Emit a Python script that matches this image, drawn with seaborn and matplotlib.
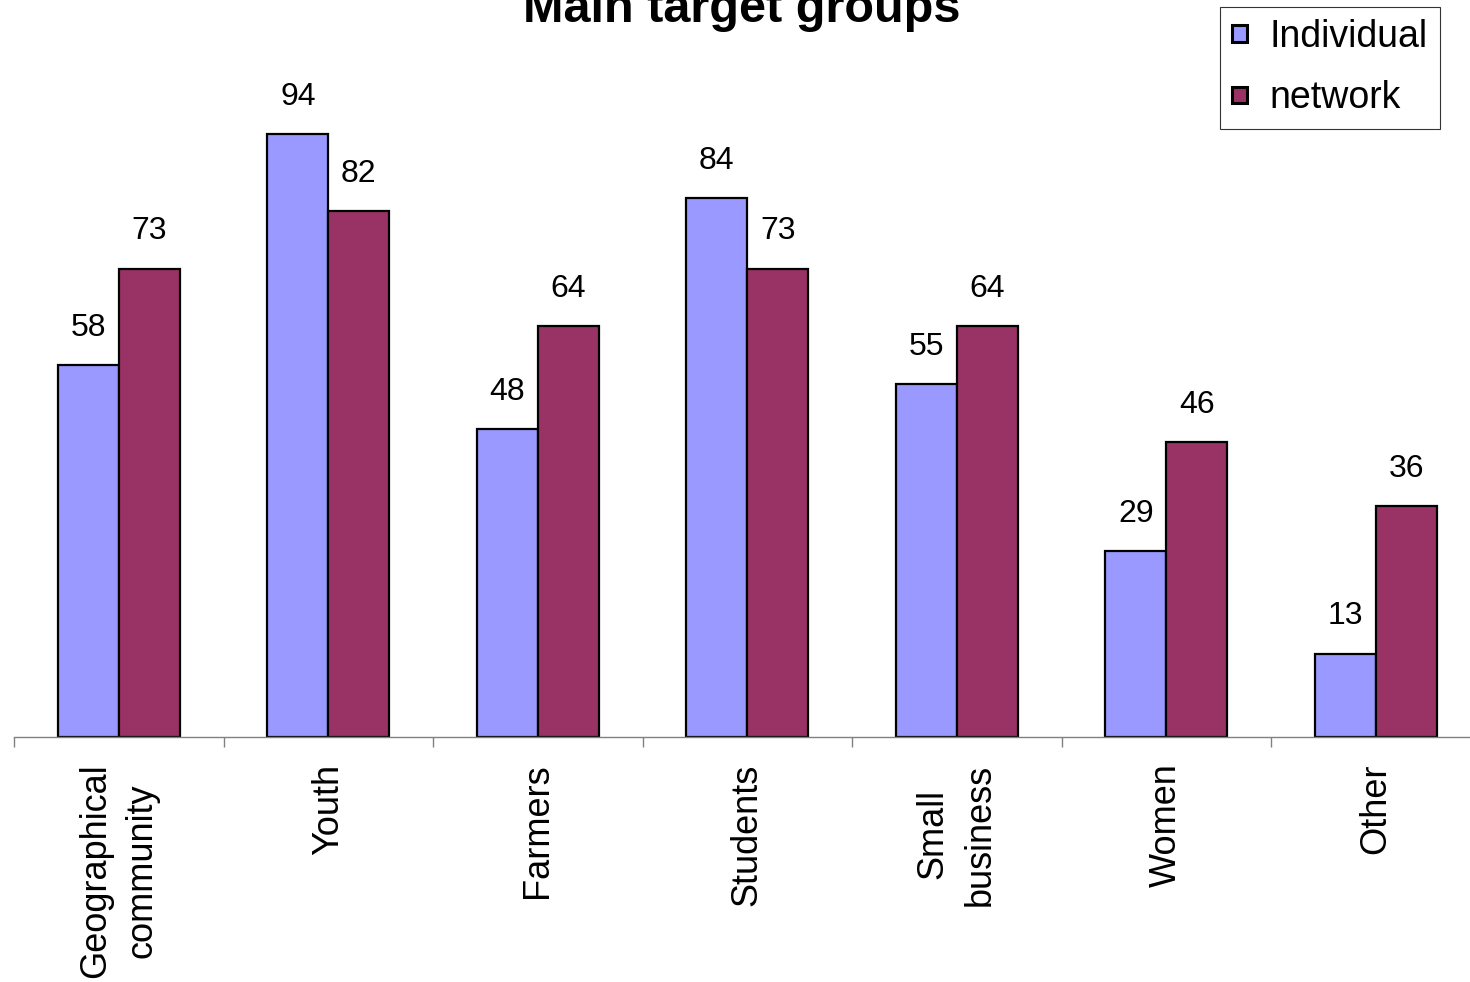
import matplotlib
matplotlib.use("Agg")
import matplotlib.pyplot as plt
import seaborn as sns
import pandas as pd
import numpy as np

categories = ["Geographical\ncommunity", "Youth", "Farmers", "Students",
              "Small\nbusiness", "Women", "Other"]
individual = [58, 94, 48, 84, 55, 29, 13]
network = [73, 82, 64, 73, 64, 46, 36]
series_names = ["Individual", "network"]
colors = {"Individual": "#9999FF", "network": "#993366"}
title = "Main target groups"

df = pd.DataFrame({
    "category": categories * 2,
    "value": individual + network,
    "series": [series_names[0]] * len(categories) + [series_names[1]] * len(categories),
})

sns.set_style("white")
plt.rcParams["font.family"] = ["Liberation Sans", "DejaVu Sans"]
plt.rcParams["text.color"] = "black"
plt.rcParams["xtick.color"] = "#808080"
plt.rcParams["xtick.labelcolor"] = "black"

W, H = 1470, 982
fig = plt.figure(figsize=(W / 100, H / 100), dpi=100)
ax = fig.add_axes([14 / W, (H - 737) / H, 1466.5 / W, 641.5 / H])

sns.barplot(data=df, x="category", y="value", hue="series", order=categories,
            hue_order=series_names, palette=colors, width=0.58,
            edgecolor="black", linewidth=1.6, ax=ax, errorbar=None, saturation=1)

for cont in ax.containers:
    ax.bar_label(cont, fmt="%d", padding=16, fontsize=23, color="black")

ax.set_xlim(-0.5, len(categories) - 0.5)
ax.set_ylim(0, 100)
ax.set_xlabel("")
ax.set_ylabel("")
ax.set_yticks([])
for s in ["left", "right", "top"]:
    ax.spines[s].set_visible(False)
ax.spines["bottom"].set_color("#808080")
ax.spines["bottom"].set_linewidth(1.0)

ax.set_xticks(range(len(categories)))
ax.set_xticklabels(categories, rotation=90, fontsize=26, ha="center", va="top",
                   multialignment="center", linespacing=1.45, color="black")
ax.tick_params(axis="x", which="major", length=0, pad=19, bottom=True)
ax.set_xticks(np.arange(-0.5, len(categories) + 0.5, 1), minor=True)
ax.tick_params(axis="x", which="minor", length=7, width=1.0, color="#808080",
               direction="out", bottom=True)

handles, labels = ax.get_legend_handles_labels()
ax.get_legend().remove()
leg = fig.legend(handles, labels, loc="upper right",
                 bbox_to_anchor=(1440 / W, 1 - 7 / H), bbox_transform=fig.transFigure,
                 fontsize=27, frameon=True, fancybox=False, edgecolor="black",
                 handlelength=0.42, handleheight=0.3, handletextpad=0.6,
                 labelspacing=0.68, borderpad=0.32, borderaxespad=0)
leg.get_frame().set_linewidth(0.8)
for t in leg.get_texts():
    t.set_color("black")
for h in leg.legend_handles:
    h.set_linewidth(2.2)

fig.text(742 / W, 1 - 22 / H, title, ha="center", va="baseline",
         fontsize=35, fontweight="bold", color="black")

fig.savefig("out.png", dpi=100)
